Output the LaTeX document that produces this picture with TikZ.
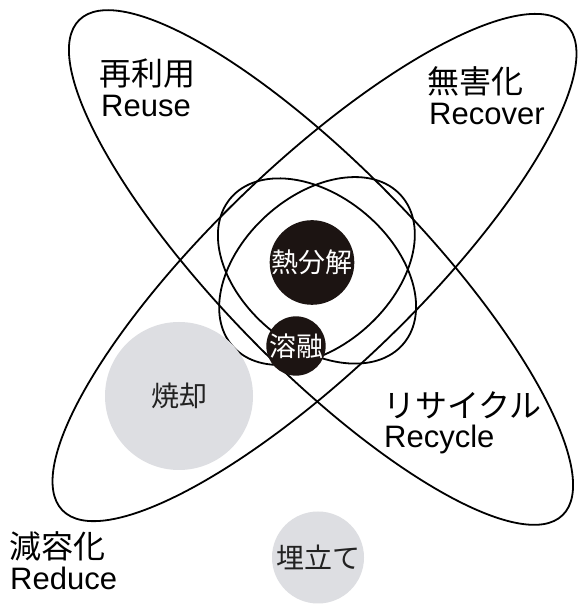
\documentclass[tikz,border=0pt]{standalone}
\usepackage{fontspec}
\setmainfont{Liberation Sans}
\newfontfamily\jp{Noto Sans CJK JP}
\definecolor{dotdark}{RGB}{28,20,18}
\definecolor{dotgray}{RGB}{221,222,226}
\definecolor{inkgray}{RGB}{34,34,34}
\begin{document}
\begin{tikzpicture}[x=1pt,y=1pt,
  ring/.style={draw=black, line width=1.8pt},
  darkdot/.style={circle, fill=dotdark, inner sep=0pt, text=white, font=\jp\fontsize{27}{27}\selectfont},
  graydot/.style={circle, fill=dotgray, inner sep=0pt, text=inkgray, font=\jp\fontsize{28}{28}\selectfont},
  jlabel/.style={anchor=west, inner sep=0pt, font=\jp\fontsize{32}{32}\selectfont},
  elabel/.style={anchor=base west, inner sep=0pt, font=\fontsize{31}{31}\selectfont}]
\useasboundingbox (0,0) rectangle (578,604);
\fill[white] (0,0) rectangle (578,604);
% large ellipses
\coordinate (cA) at (321,336.5);
\coordinate (cB) at (314.5,336.5);
\coordinate (cI) at (317,333);
\draw[ring, rotate around={-45.7:(cA)}] (cA) ellipse [x radius=346, y radius=100];
\draw[ring, rotate around={43.9:(cB)}] (cB) ellipse [x radius=350, y radius=102];
% inner ellipses
\draw[ring, rotate around={-40:(cI)}] (cI) ellipse [x radius=113, y radius=75];
\draw[ring, rotate around={42:(cI)}] (cI) ellipse [x radius=113, y radius=75];
% circles
\node[darkdot, minimum size=80pt] (heat) at (312,341.5) {熱分解};
\node[darkdot, minimum size=56pt] (melt) at (296,258) {溶融};
\node[graydot, minimum size=148pt] (burn) at (179,208) {焼却};
\node[graydot, minimum size=92pt] (fill) at (318,46.5) {埋立て};
% labels
\node[jlabel] (reuseJ) at (99,530) {再利用};
\node[elabel] (reuseE) at (101,487) {Reuse};
\node[jlabel] (recovJ) at (427,523) {無害化};
\node[elabel] (recovE) at (429,479) {Recover};
\node[jlabel] (recycJ) at (383,199) {リサイクル};
\node[elabel] (recycE) at (384,156) {Recycle};
\node[jlabel] (reducJ) at (9,58) {減容化};
\node[elabel] (reducE) at (10,14) {Reduce};
\end{tikzpicture}
\end{document}
